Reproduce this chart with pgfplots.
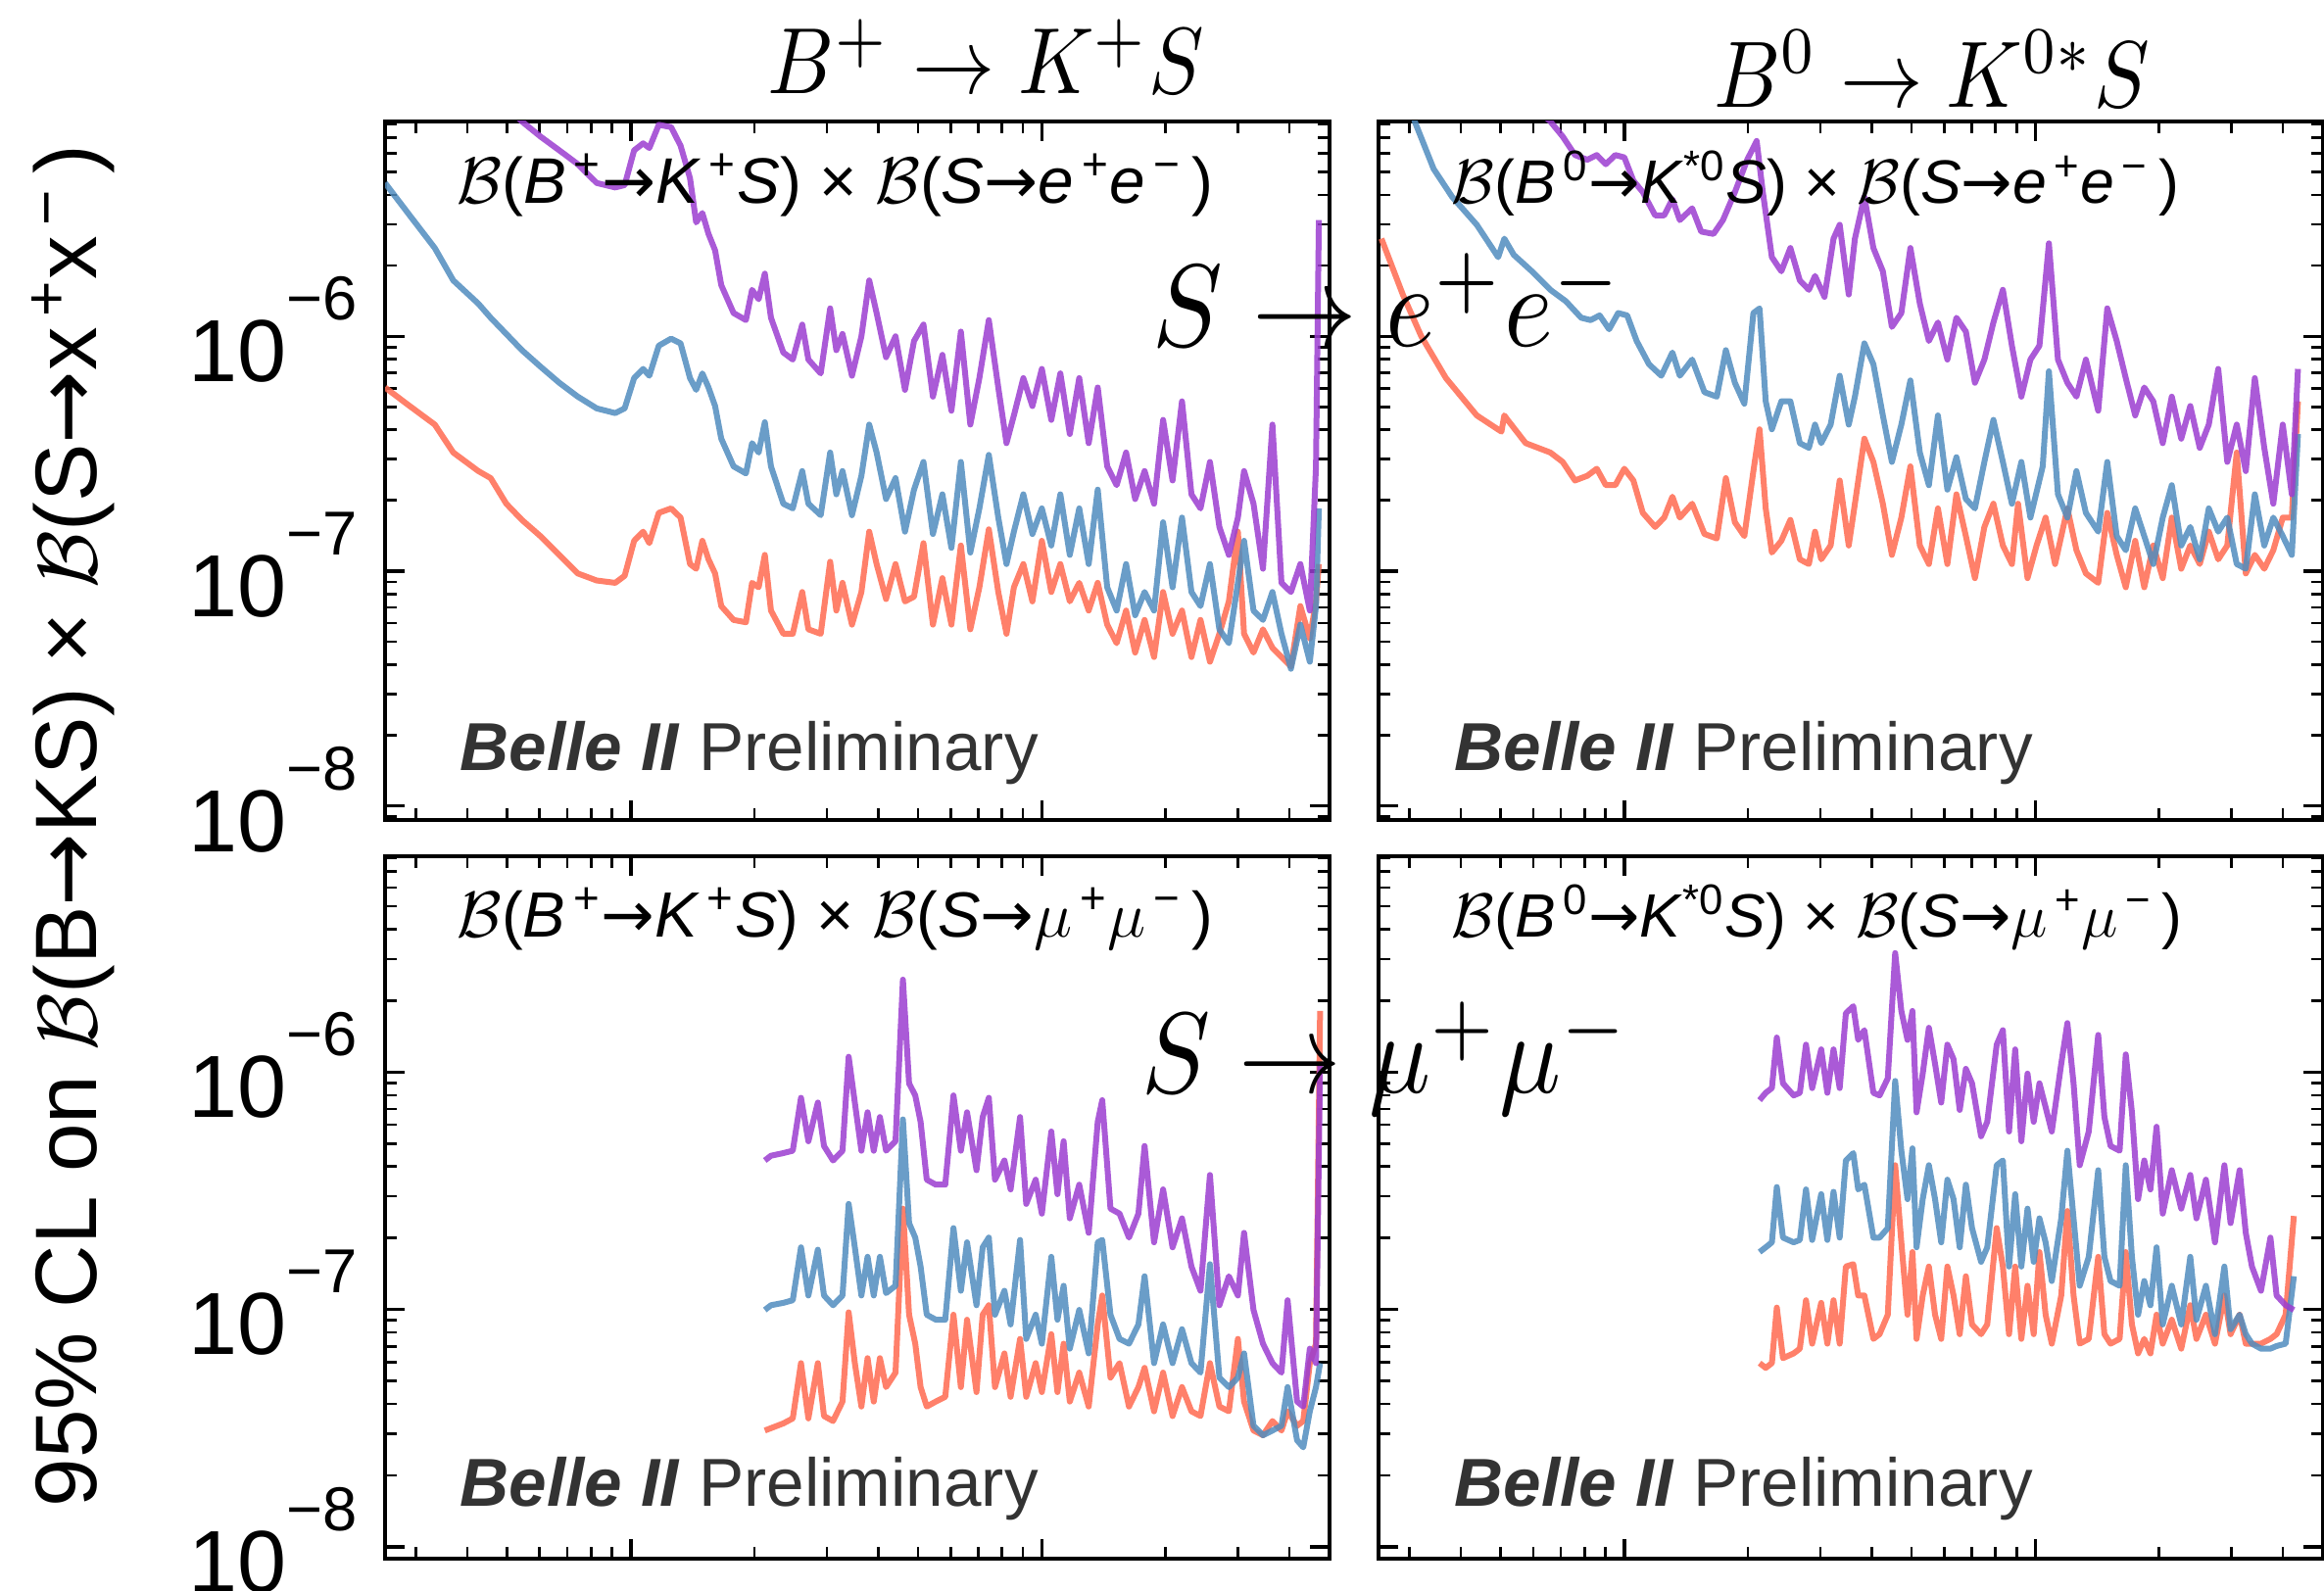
\documentclass[border=0pt]{standalone}
\usepackage{pgfplots}
\pgfplotsset{compat=1.18}
\usepackage{pgfplotstable}
\usepackage{fontspec}
\setmainfont{Liberation Sans}
\newfontfamily\dejavu{DejaVu Sans}
\definecolor{cpurp}{RGB}{155,61,208}
\definecolor{cblue}{RGB}{80,140,190}
\definecolor{corange}{RGB}{255,106,80}
\definecolor{bellegray}{RGB}{51,51,51}
\newcommand{\tl}[1]{\fontsize{27}{27}\selectfont 10\raisebox{18.9pt}{\fontsize{19}{19}\selectfont −#1}}
\newcommand{\arr}{{\dejavu →}}
\newcommand{\annot}[3]{\fontsize{17}{17}\selectfont $\mathcal{B}$(\textit{B}\textsuperscript{\,#1}\arr\textit{K}\textsuperscript{#2}\textit{S}) × $\mathcal{B}$(\textit{S}\arr #3\,)}

% x = log10(m_S / GeV), y = log10(95% CL upper limit)
\pgfplotstableread{
L O B P
-1.598 -6.218 -5.347 -4.37
-1.538 -6.297 -5.485 -4.51
-1.477 -6.376 -5.624 -4.65
-1.432 -6.495 -5.762 -4.79
-1.371 -6.574 -5.861 -4.89
-1.341 -6.604 -5.921 -4.95
-1.303 -6.713 -5.990 -5.02
-1.265 -6.782 -6.059 -5.085
-1.220 -6.851 -6.129 -5.149
-1.174 -6.931 -6.198 -5.208
-1.129 -7.010 -6.257 -5.267
-1.083 -7.040 -6.307 -5.347
-1.038 -7.050 -6.327 -5.366
-1.015 -7.020 -6.307 -5.356
-0.992 -6.871 -6.178 -5.208
-0.970 -6.832 -6.139 -5.178
-0.955 -6.881 -6.168 -5.198
-0.932 -6.752 -6.040 -5.099
-0.902 -6.733 -6.010 -5.109
-0.879 -6.772 -6.030 -5.188
-0.856 -6.970 -6.178 -5.327
-0.841 -6.990 -6.228 -5.515
-0.826 -6.871 -6.158 -5.475
-0.811 -6.950 -6.218 -5.564
-0.795 -7.010 -6.297 -5.634
-0.780 -7.149 -6.436 -5.782
-0.750 -7.208 -6.554 -5.901
-0.720 -7.218 -6.584 -5.931
-0.705 -7.050 -6.455 -5.802
-0.689 -7.069 -6.495 -5.842
-0.674 -6.931 -6.366 -5.733
-0.659 -7.168 -6.554 -5.921
-0.629 -7.267 -6.713 -6.069
-0.606 -7.267 -6.733 -6.099
-0.583 -7.089 -6.574 -5.950
-0.568 -7.248 -6.713 -6.099
-0.538 -7.267 -6.762 -6.158
-0.515 -6.960 -6.495 -5.881
-0.500 -7.168 -6.673 -6.059
-0.485 -7.050 -6.574 -5.990
-0.462 -7.228 -6.762 -6.168
-0.439 -7.089 -6.594 -6.000
-0.420 -6.832 -6.376 -5.762
-0.402 -6.970 -6.495 -5.901
-0.379 -7.119 -6.693 -6.089
-0.356 -6.970 -6.604 -6.000
-0.333 -7.129 -6.832 -6.228
-0.311 -7.109 -6.653 -6.020
-0.288 -6.881 -6.535 -5.950
-0.265 -7.228 -6.842 -6.257
-0.242 -7.030 -6.673 -6.079
-0.220 -7.228 -6.901 -6.317
-0.197 -6.891 -6.535 -5.980
-0.174 -7.248 -6.921 -6.376
-0.152 -7.069 -6.733 -6.178
-0.129 -6.822 -6.505 -5.931
-0.106 -7.089 -6.772 -6.218
-0.086 -7.267 -6.970 -6.455
-0.068 -7.069 -6.832 -6.337
-0.045 -6.970 -6.673 -6.178
-0.023 -7.129 -6.842 -6.297
0.000 -6.871 -6.733 -6.139
0.023 -7.089 -6.891 -6.356
0.045 -6.970 -6.673 -6.158
0.068 -7.129 -6.931 -6.416
0.091 -7.050 -6.733 -6.178
0.114 -7.168 -6.970 -6.455
0.136 -7.050 -6.653 -6.218
0.159 -7.228 -7.069 -6.554
0.182 -7.307 -7.168 -6.634
0.205 -7.168 -6.970 -6.495
0.227 -7.347 -7.188 -6.693
0.250 -7.208 -7.089 -6.574
0.273 -7.366 -7.168 -6.713
0.295 -7.089 -6.792 -6.356
0.318 -7.267 -7.069 -6.614
0.341 -7.168 -6.772 -6.277
0.364 -7.366 -7.089 -6.673
0.386 -7.208 -7.149 -6.733
0.409 -7.386 -6.970 -6.535
0.432 -7.267 -7.248 -6.812
0.455 -7.129 -7.307 -6.931
0.477 -6.832 -7.050 -6.772
0.492 -7.267 -6.871 -6.574
0.515 -7.347 -7.168 -6.713
0.538 -7.248 -7.208 -6.990
0.561 -7.327 -7.089 -6.376
0.583 -7.366 -7.267 -7.050
0.606 -7.406 -7.416 -7.089
0.629 -7.149 -7.228 -6.970
0.652 -7.287 -7.386 -7.168
0.667 -7.129 -7.149 -6.554
0.674 -6.970 -6.733 -5.505
}\tlTab

\pgfplotstableread{
L V
-1.591 -5.584
-1.539 -5.822
-1.494 -6.000
-1.434 -6.178
-1.359 -6.337
-1.299 -6.406
-1.292 -6.337
-1.284 -6.356
-1.240 -6.455
-1.180 -6.495
-1.150 -6.535
-1.120 -6.614
-1.090 -6.594
-1.067 -6.564
-1.045 -6.634
-1.022 -6.634
-1.000 -6.564
-0.978 -6.614
-0.955 -6.752
-0.925 -6.812
-0.903 -6.772
-0.883 -6.683
-0.865 -6.772
-0.835 -6.713
-0.805 -6.842
-0.775 -6.861
-0.753 -6.604
-0.731 -6.792
-0.708 -6.851
-0.686 -6.574
-0.671 -6.396
-0.656 -6.733
-0.641 -6.921
-0.618 -6.871
-0.596 -6.782
-0.573 -6.950
-0.551 -6.970
-0.536 -6.832
-0.521 -6.950
-0.498 -6.891
-0.476 -6.614
-0.454 -6.891
-0.439 -6.713
-0.416 -6.436
-0.394 -6.535
-0.371 -6.713
-0.349 -6.931
-0.326 -6.772
-0.304 -6.554
-0.281 -6.891
-0.259 -6.970
-0.237 -6.733
-0.214 -6.970
-0.192 -6.673
-0.169 -6.851
-0.147 -7.030
-0.124 -6.812
-0.102 -6.713
-0.079 -6.891
-0.057 -6.970
-0.042 -6.713
-0.019 -7.030
0.003 -6.891
0.025 -6.772
0.048 -6.970
0.078 -6.733
0.100 -6.911
0.123 -7.010
0.153 -7.050
0.175 -6.752
0.198 -6.931
0.220 -7.069
0.243 -6.871
0.265 -7.069
0.287 -6.891
0.310 -7.030
0.332 -6.772
0.355 -6.990
0.377 -6.891
0.400 -6.970
0.422 -6.832
0.445 -6.950
0.467 -6.891
0.490 -6.495
0.512 -7.010
0.534 -6.931
0.557 -6.990
0.579 -6.911
0.602 -6.772
0.624 -6.772
0.639 -6.277
}\trO

\pgfplotstableread{
L V
-1.591 -4.600
-1.509 -5.089
-1.464 -5.287
-1.419 -5.406
-1.359 -5.525
-1.307 -5.663
-1.292 -5.584
-1.269 -5.653
-1.225 -5.723
-1.180 -5.802
-1.142 -5.851
-1.105 -5.921
-1.082 -5.931
-1.060 -5.911
-1.037 -5.970
-1.015 -5.901
-0.993 -5.911
-0.970 -6.020
-0.940 -6.119
-0.910 -6.168
-0.883 -6.069
-0.865 -6.168
-0.835 -6.099
-0.805 -6.238
-0.775 -6.257
-0.753 -6.059
-0.731 -6.198
-0.708 -6.287
-0.686 -5.901
-0.671 -5.881
-0.656 -6.277
-0.641 -6.396
-0.618 -6.277
-0.596 -6.277
-0.573 -6.455
-0.551 -6.475
-0.536 -6.376
-0.521 -6.455
-0.498 -6.376
-0.476 -6.168
-0.454 -6.376
-0.439 -6.257
-0.416 -6.030
-0.394 -6.119
-0.371 -6.337
-0.349 -6.535
-0.326 -6.376
-0.304 -6.188
-0.281 -6.495
-0.259 -6.634
-0.237 -6.337
-0.214 -6.653
-0.192 -6.515
-0.169 -6.693
-0.147 -6.733
-0.124 -6.535
-0.102 -6.356
-0.079 -6.535
-0.057 -6.713
-0.034 -6.535
-0.012 -6.772
0.018 -6.554
0.033 -6.149
0.055 -6.673
0.078 -6.772
0.100 -6.574
0.123 -6.752
0.153 -6.832
0.175 -6.535
0.198 -6.851
0.220 -6.911
0.243 -6.733
0.265 -6.851
0.287 -6.970
0.310 -6.772
0.332 -6.634
0.355 -6.891
0.377 -6.812
0.400 -6.950
0.422 -6.733
0.445 -6.832
0.467 -6.772
0.490 -6.970
0.512 -6.990
0.534 -6.673
0.557 -6.891
0.579 -6.772
0.602 -6.851
0.624 -6.931
0.639 -6.416
}\trB

\pgfplotstableread{
L V
-1.591 -3.900
-1.509 -4.370
-1.359 -4.810
-1.180 -5.085
-1.150 -5.149
-1.120 -5.228
-1.090 -5.248
-1.067 -5.228
-1.045 -5.267
-1.022 -5.228
-1.000 -5.238
-0.978 -5.337
-0.955 -5.386
-0.925 -5.485
-0.903 -5.485
-0.883 -5.416
-0.865 -5.505
-0.835 -5.455
-0.813 -5.554
-0.783 -5.564
-0.760 -5.505
-0.731 -5.386
-0.701 -5.248
-0.678 -5.168
-0.663 -5.386
-0.641 -5.663
-0.618 -5.723
-0.596 -5.624
-0.573 -5.762
-0.551 -5.802
-0.536 -5.743
-0.513 -5.832
-0.491 -5.584
-0.476 -5.525
-0.454 -5.822
-0.439 -5.584
-0.416 -5.406
-0.394 -5.624
-0.371 -5.723
-0.349 -5.960
-0.326 -5.901
-0.304 -5.624
-0.281 -5.861
-0.259 -6.020
-0.237 -5.941
-0.214 -6.099
-0.192 -5.921
-0.169 -5.980
-0.147 -6.198
-0.124 -6.099
-0.102 -5.941
-0.079 -5.802
-0.057 -6.040
-0.034 -6.257
-0.012 -6.099
0.010 -6.040
0.033 -5.604
0.055 -6.099
0.078 -6.198
0.100 -6.257
0.123 -6.099
0.153 -6.317
0.175 -5.881
0.198 -6.020
0.220 -6.178
0.243 -6.337
0.265 -6.218
0.287 -6.277
0.310 -6.455
0.332 -6.257
0.355 -6.436
0.377 -6.297
0.400 -6.475
0.422 -6.376
0.445 -6.139
0.467 -6.535
0.490 -6.376
0.512 -6.574
0.534 -6.178
0.557 -6.475
0.579 -6.713
0.602 -6.376
0.624 -6.673
0.639 -6.139
}\trP

\pgfplotstableread{
L O B P
-0.674 -7.510 -7.002 -6.372
-0.659 -7.500 -6.982 -6.352
-0.629 -7.480 -6.972 -6.341
-0.606 -7.459 -6.961 -6.331
-0.586 -7.226 -6.738 -6.108
-0.568 -7.459 -6.941 -6.291
-0.545 -7.226 -6.748 -6.128
-0.530 -7.449 -6.941 -6.311
-0.508 -7.470 -6.982 -6.372
-0.485 -7.388 -6.941 -6.331
-0.470 -7.012 -6.555 -5.935
-0.455 -7.226 -6.738 -6.128
-0.439 -7.409 -6.941 -6.331
-0.424 -7.205 -6.778 -6.169
-0.409 -7.388 -6.941 -6.331
-0.394 -7.205 -6.778 -6.189
-0.379 -7.327 -6.931 -6.331
-0.356 -7.266 -6.900 -6.291
-0.338 -6.575 -6.199 -5.610
-0.323 -7.022 -6.636 -6.047
-0.308 -7.144 -6.697 -6.098
-0.295 -7.327 -6.819 -6.209
-0.280 -7.409 -7.022 -6.453
-0.258 -7.388 -7.043 -6.474
-0.235 -7.368 -7.043 -6.474
-0.215 -7.022 -6.657 -6.098
-0.197 -7.327 -6.921 -6.331
-0.182 -7.043 -6.717 -6.169
-0.159 -7.348 -6.982 -6.413
-0.144 -7.022 -6.738 -6.189
-0.129 -6.982 -6.697 -6.108
-0.114 -7.327 -7.022 -6.453
-0.091 -7.185 -6.921 -6.372
-0.076 -7.368 -7.063 -6.494
-0.053 -7.124 -6.707 -6.189
-0.038 -7.368 -7.124 -6.555
-0.015 -7.226 -7.022 -6.453
0.000 -7.348 -7.144 -6.596
0.023 -7.104 -6.778 -6.250
0.038 -7.348 -7.043 -6.514
0.053 -7.144 -6.900 -6.291
0.068 -7.388 -7.165 -6.616
0.091 -7.266 -7.002 -6.474
0.114 -7.409 -7.185 -6.677
0.136 -7.063 -6.717 -6.209
0.147 -6.941 -6.707 -6.118
0.167 -7.287 -7.022 -6.575
0.189 -7.226 -7.124 -6.596
0.212 -7.409 -7.144 -6.697
0.235 -7.327 -7.063 -6.596
0.250 -7.246 -6.860 -6.311
0.273 -7.429 -7.226 -6.717
0.295 -7.266 -7.063 -6.494
0.318 -7.449 -7.226 -6.738
0.341 -7.327 -7.083 -6.616
0.364 -7.429 -7.226 -6.819
0.386 -7.449 -7.266 -6.921
0.409 -7.226 -6.809 -6.433
0.432 -7.409 -7.287 -6.982
0.455 -7.429 -7.327 -6.860
0.477 -7.124 -7.287 -6.941
0.492 -7.388 -7.185 -6.677
0.515 -7.510 -7.490 -7.002
0.538 -7.530 -7.530 -7.144
0.561 -7.470 -7.510 -7.226
0.583 -7.510 -7.490 -7.266
0.598 -7.429 -7.327 -6.961
0.621 -7.490 -7.551 -7.388
0.636 -7.470 -7.581 -7.409
0.652 -7.226 -7.429 -7.165
0.667 -7.144 -7.327 -7.226
0.677 -5.742 -7.226 -5.965
}\blTab

\pgfplotstableread{
L O B P
-0.671 -7.226 -6.758 -6.118
-0.656 -7.246 -6.738 -6.087
-0.641 -7.226 -6.717 -6.067
-0.629 -6.992 -6.484 -5.854
-0.614 -7.205 -6.697 -6.047
-0.588 -7.185 -6.717 -6.098
-0.573 -7.165 -6.707 -6.087
-0.558 -6.961 -6.494 -5.884
-0.543 -7.144 -6.707 -6.067
-0.521 -6.972 -6.514 -5.904
-0.506 -7.144 -6.707 -6.087
-0.491 -6.961 -6.504 -5.904
-0.476 -7.144 -6.697 -6.067
-0.461 -6.819 -6.372 -5.752
-0.443 -6.809 -6.341 -5.722
-0.431 -6.941 -6.494 -5.864
-0.416 -6.941 -6.474 -5.823
-0.394 -7.124 -6.697 -6.087
-0.379 -7.104 -6.697 -6.098
-0.359 -7.022 -6.657 -6.026
-0.341 -6.392 -6.037 -5.498
-0.326 -6.717 -6.331 -5.742
-0.311 -7.022 -6.535 -5.864
-0.299 -6.758 -6.321 -5.742
-0.289 -7.124 -6.738 -6.169
-0.274 -6.941 -6.535 -6.006
-0.259 -6.819 -6.392 -5.813
-0.244 -7.022 -6.535 -5.965
-0.229 -7.124 -6.717 -6.128
-0.214 -6.819 -6.453 -5.884
-0.199 -6.941 -6.535 -5.945
-0.184 -7.104 -6.738 -6.159
-0.169 -6.860 -6.474 -5.986
-0.154 -7.063 -6.657 -6.047
-0.132 -7.104 -6.799 -6.270
-0.117 -7.063 -6.738 -6.209
-0.094 -6.657 -6.392 -5.884
-0.079 -6.819 -6.372 -5.823
-0.064 -7.104 -6.819 -6.250
-0.049 -6.819 -6.514 -5.904
-0.034 -7.124 -6.819 -6.291
-0.019 -6.900 -6.575 -6.006
-0.004 -7.104 -6.799 -6.209
0.010 -6.758 -6.616 -6.047
0.025 -7.022 -6.717 -6.148
0.040 -7.144 -6.880 -6.250
0.063 -6.941 -6.616 -5.965
0.078 -6.585 -6.331 -5.793
0.093 -6.941 -6.616 -6.047
0.108 -7.144 -6.900 -6.392
0.130 -7.124 -6.778 -6.250
0.153 -6.778 -6.413 -5.843
0.168 -7.104 -6.778 -6.189
0.183 -7.144 -6.880 -6.311
0.205 -7.124 -6.900 -6.331
0.220 -6.758 -6.392 -5.925
0.235 -7.063 -6.778 -6.169
0.250 -7.185 -7.022 -6.535
0.265 -7.124 -6.880 -6.372
0.280 -7.185 -6.982 -6.494
0.295 -7.022 -6.738 -6.230
0.310 -7.144 -7.063 -6.596
0.332 -7.043 -6.900 -6.413
0.355 -7.165 -7.063 -6.575
0.377 -6.982 -6.778 -6.433
0.392 -7.124 -7.043 -6.616
0.415 -7.022 -6.900 -6.453
0.437 -7.144 -7.104 -6.717
0.460 -6.941 -6.819 -6.392
0.475 -7.104 -7.083 -6.636
0.497 -7.022 -7.022 -6.413
0.512 -7.144 -7.104 -6.677
0.527 -7.144 -7.144 -6.819
0.549 -7.144 -7.165 -6.921
0.572 -7.124 -7.165 -6.697
0.587 -7.104 -7.154 -6.941
0.609 -7.022 -7.144 -6.982
0.629 -6.606 -6.860 -7.002
}\brTab

\pgfplotsset{
  panel/.style={
    scale only axis, width=289.2pt,
    xmin=-1.598, xmax=0.700,
    xtick={-1,0},
    minor xtick={-1.5229,-1.3979,-1.3010,-1.2218,-1.1549,-1.0969,-1.0458,-0.6990,-0.5229,-0.3979,-0.3010,-0.2218,-0.1549,-0.0969,-0.0458,0.3010,0.4771,0.6021},
    xticklabels={},
    ytick={-8,-7,-6},
    minor ytick={-8.0458,-7.6990,-7.5229,-7.3979,-7.3010,-7.2218,-7.1549,-7.0969,-7.0458,-6.6990,-6.5229,-6.3979,-6.3010,-6.2218,-6.1549,-6.0969,-6.0458,-5.6990,-5.5229,-5.3979,-5.3010,-5.2218,-5.1549,-5.0969},
    yticklabels={},
    tick align=inside, xtick pos=both, ytick pos=both,
    major tick length=6pt, minor tick length=3.6pt,
    every major tick/.append style={line width=1pt, black},
    every minor tick/.append style={line width=0.8pt, black},
    axis line style={line width=1.2pt, black},
  },
  toppanel/.style={panel, height=213.9pt, ymin=-8.06, ymax=-5.085},
  botpanel/.style={panel, height=215.1pt, ymin=-8.05, ymax=-5.09},
  leftlab/.style={yticklabels={{\tl{8}},{\tl{7}},{\tl{6}}},
    yticklabel style={anchor=east, inner sep=0pt, xshift=-8.25pt, yshift=2pt}},
  co/.style={corange, line width=1.8pt, opacity=0.85, line join=round},
  cb/.style={cblue, line width=1.8pt, opacity=0.85, line join=round},
  cp/.style={cpurp, line width=1.8pt, opacity=0.85, line join=round},
}

\begin{document}
\begin{tikzpicture}[x=1pt,y=1pt]
\useasboundingbox (0pt,0pt) rectangle (711.6pt,486.9pt);

\begin{axis}[toppanel, leftlab, at={(117.9pt,235.8pt)}, anchor=south west]
\addplot[co] table[x=L,y=O]{\tlTab};
\addplot[cb] table[x=L,y=B]{\tlTab};
\addplot[cp] table[x=L,y=P]{\tlTab};
\end{axis}

\begin{axis}[toppanel, at={(422.1pt,235.8pt)}, anchor=south west]
\addplot[co] table[x=L,y=V]{\trO};
\addplot[cb] table[x=L,y=V]{\trB};
\addplot[cp] table[x=L,y=V]{\trP};
\end{axis}

\begin{axis}[botpanel, leftlab, at={(117.9pt,9.6pt)}, anchor=south west]
\addplot[co] table[x=L,y=O]{\blTab};
\addplot[cb] table[x=L,y=B]{\blTab};
\addplot[cp] table[x=L,y=P]{\blTab};
\end{axis}

\begin{axis}[botpanel, at={(422.1pt,9.6pt)}, anchor=south west]
\addplot[co] table[x=L,y=O]{\brTab};
\addplot[cb] table[x=L,y=B]{\brTab};
\addplot[cp] table[x=L,y=P]{\brTab};
\end{axis}

% annotations inside panels
\node[anchor=base west, inner sep=0pt] at (139.8pt,424.5pt) {\resizebox{231.6pt}{!}{\annot{+}{\,+}{\textit{e}\textsuperscript{\,+}\textit{e}\textsuperscript{\,−}}}};
\node[anchor=base west, inner sep=0pt] at (444.3pt,424.5pt) {\resizebox{222.9pt}{!}{\annot{0}{*0}{\textit{e}\textsuperscript{\,+}\textit{e}\textsuperscript{\,−}}}};
\node[anchor=base west, inner sep=0pt] at (139.8pt,199.8pt) {\resizebox{231.6pt}{!}{\annot{+}{\,+}{$\mu$\textsuperscript{\,+}$\mu$\textsuperscript{\,−}}}};
\node[anchor=base west, inner sep=0pt] at (444.3pt,199.8pt) {\resizebox{223.8pt}{!}{\annot{0}{*0}{$\mu$\textsuperscript{\,+}$\mu$\textsuperscript{\,−}}}};

\node[anchor=base west, inner sep=0pt] at (140.7pt,250.8pt) {\resizebox{177pt}{!}{\color{bellegray}\textbf{\textit{Belle II}} Preliminary}};
\node[anchor=base west, inner sep=0pt] at (445.2pt,250.8pt) {\resizebox{177pt}{!}{\color{bellegray}\textbf{\textit{Belle II}} Preliminary}};
\node[anchor=base west, inner sep=0pt] at (140.7pt,25.5pt) {\resizebox{177pt}{!}{\color{bellegray}\textbf{\textit{Belle II}} Preliminary}};
\node[anchor=base west, inner sep=0pt] at (445.2pt,25.5pt) {\resizebox{177pt}{!}{\color{bellegray}\textbf{\textit{Belle II}} Preliminary}};

% column titles
\node[anchor=base, inner sep=0pt] at (301.95pt,458.1pt) {\scalebox{1}[1.14]{\resizebox{133.5pt}{!}{$B^{+}\rightarrow K^{+}S$}}};
\node[anchor=base, inner sep=0pt] at (591.45pt,453.9pt) {\scalebox{1}[1.14]{\resizebox{133.5pt}{!}{$B^{0}\rightarrow K^{0*}S$}}};

% row labels
\node[anchor=base, inner sep=0pt] at (425.1pt,380.7pt) {\scalebox{1}[1.12]{\resizebox{144pt}{!}{$S\rightarrow e^{+}e^{-}$}}};
\node[anchor=base, inner sep=0pt] at (424.35pt,152.1pt) {\scalebox{1}[1.12]{\resizebox{149.7pt}{!}{$S\rightarrow \mu^{+}\mu^{-}$}}};

% y label
\node[rotate=90, anchor=base, inner sep=0pt] at (29.7pt,234pt) {\resizebox{417pt}{!}{\fontsize{26}{26}\selectfont 95\% CL on $\mathcal{B}$(B\arr KS) × $\mathcal{B}$(S\arr x\textsuperscript{\,+}x\textsuperscript{\,−}\,)}};
\end{tikzpicture}
\end{document}
